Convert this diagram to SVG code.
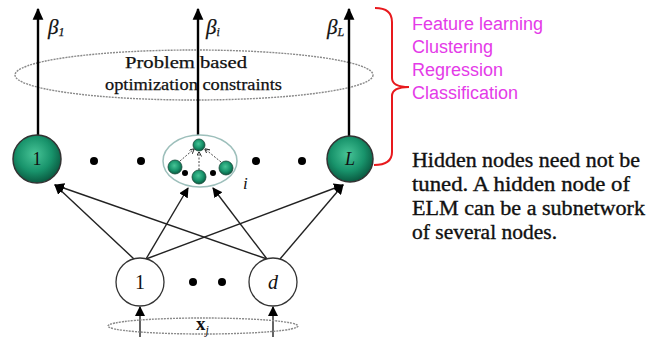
<svg xmlns="http://www.w3.org/2000/svg" width="662" height="337" viewBox="0 0 662 337">
<style>
.serif{font-family:"Liberation Serif","Times New Roman",serif;fill:#111}
.ln{stroke:#222;stroke-width:1.4;fill:none}
.up{stroke:#000;stroke-width:2.4;fill:none}
.dotted{fill:none;stroke:#8a8a8a;stroke-width:1.4;stroke-dasharray:2 1}
.big{fill:url(#g);stroke:#333;stroke-width:1.5}
.mini{fill:url(#g);stroke:#1a4a3a;stroke-width:0.8}
.dot{fill:#000}
.circ{fill:#fff;stroke:#333;stroke-width:1.3}
.mag{font-family:"Liberation Sans",Arial,sans-serif;font-size:18px;fill:#e43be8}
.note{font-family:"Liberation Serif","Times New Roman",serif;font-size:20px;fill:#111;stroke:#111;stroke-width:0.35}
.heavy{stroke:#111;stroke-width:0.25}
</style>
<defs>
<radialGradient id="g" cx="45%" cy="40%" r="60%">
<stop offset="0" stop-color="#48c497"/>
<stop offset="0.6" stop-color="#18936b"/>
<stop offset="1" stop-color="#0a5a41"/>
</radialGradient>
<marker id="ah" viewBox="0 0 10 10" refX="9" refY="5" markerWidth="10" markerHeight="10" markerUnits="userSpaceOnUse" orient="auto">
<path d="M0,0 L10,5 L0,10 z" fill="#000"/>
</marker>
<marker id="ah2" viewBox="0 0 10 10" refX="9" refY="5" markerWidth="12" markerHeight="12" markerUnits="userSpaceOnUse" orient="auto">
<path d="M0,0.5 L10,5 L0,9.5 z" fill="#000"/>
</marker>
<marker id="sa" viewBox="0 0 10 10" refX="9" refY="5" markerWidth="5" markerHeight="5" markerUnits="userSpaceOnUse" orient="auto">
<path d="M0,0 L10,5 L0,10" fill="none" stroke="#333" stroke-width="2"/>
</marker>
</defs>

<g id="constraints">
<ellipse class="dotted" cx="194" cy="75" rx="179" ry="25"/>
<text class="serif heavy" x="125" y="68" font-size="17" textLength="122" lengthAdjust="spacingAndGlyphs">Problem  based</text>
<text class="serif heavy" x="105" y="90" font-size="17" textLength="177" lengthAdjust="spacingAndGlyphs">optimization  constraints</text>
</g>

<g id="connectors">
<line class="up" x1="38" y1="136" x2="38" y2="9" marker-end="url(#ah2)"/>
<line class="up" x1="198" y1="135" x2="198" y2="9" marker-end="url(#ah2)"/>
<line class="up" x1="349" y1="137" x2="349" y2="9" marker-end="url(#ah2)"/>
<line class="ln" x1="134" y1="259" x2="55" y2="185" marker-end="url(#ah)"/>
<line class="ln" x1="146" y1="259" x2="188" y2="188" marker-end="url(#ah)"/>
<line class="ln" x1="146" y1="259" x2="343" y2="185" marker-end="url(#ah)"/>
<line class="ln" x1="267" y1="259" x2="55" y2="185" marker-end="url(#ah)"/>
<line class="ln" x1="267" y1="259" x2="213" y2="188" marker-end="url(#ah)"/>
<line class="ln" x1="280" y1="259" x2="343" y2="185" marker-end="url(#ah)"/>
<line class="ln" x1="140" y1="337" x2="140" y2="307" marker-end="url(#ah)"/>
<line class="ln" x1="273" y1="337" x2="273" y2="307" marker-end="url(#ah)"/>
</g>

<g id="betas">
<text class="serif heavy" x="48" y="34" font-size="21" font-style="italic">β<tspan font-size="12" dy="2">1</tspan></text>
<text class="serif heavy" x="206" y="34" font-size="21" font-style="italic">β<tspan font-size="12" dy="2">i</tspan></text>
<text class="serif heavy" x="327" y="34" font-size="21" font-style="italic">β<tspan font-size="12" dy="2">L</tspan></text>
</g>

<g id="hidden1">
<circle class="big" cx="37" cy="159" r="24"/>
<text class="serif" x="37" y="165" font-size="18" text-anchor="middle">1</text>
</g>
<g id="hiddenDots">
<circle class="dot" cx="94" cy="161" r="4"/>
<circle class="dot" cx="141" cy="161" r="4"/>
<circle class="dot" cx="256" cy="161" r="4"/>
<circle class="dot" cx="302" cy="161" r="4"/>
</g>
<g id="hiddenI">
<ellipse cx="200" cy="161" rx="37" ry="26" fill="#fff" stroke="#9dbfbb" stroke-width="1.5"/>
<line x1="180" y1="161" x2="194" y2="149" stroke="#333" stroke-width="0.9" stroke-dasharray="2 1.5" marker-end="url(#sa)"/>
<line x1="199" y1="170" x2="199" y2="152" stroke="#333" stroke-width="0.9" stroke-dasharray="2 1.5" marker-end="url(#sa)"/>
<line x1="221" y1="162" x2="205" y2="149" stroke="#333" stroke-width="0.9" stroke-dasharray="2 1.5" marker-end="url(#sa)"/>
<circle class="mini" cx="199" cy="145" r="6"/>
<circle class="mini" cx="175" cy="167" r="7"/>
<circle class="mini" cx="199" cy="177" r="7"/>
<circle class="mini" cx="226" cy="168" r="7"/>
<circle class="dot" cx="185" cy="173" r="3"/>
<circle class="dot" cx="213" cy="173" r="3"/>
<text class="serif" x="243" y="189" font-size="17" font-style="italic">i</text>
</g>
<g id="hiddenL">
<circle class="big" cx="350" cy="159" r="23"/>
<text class="serif" x="350" y="165" font-size="18" font-style="italic" text-anchor="middle">L</text>
</g>

<g id="bracket">
<path d="M375,8 Q392,8 392,22 L392,78 Q392,87 409,87 Q392,87 392,96 L392,152 Q392,165 374,165" fill="none" stroke="#e8191d" stroke-width="2"/>
<text class="mag" x="412" y="30">Feature learning</text>
<text class="mag" x="412" y="53">Clustering</text>
<text class="mag" x="412" y="76">Regression</text>
<text class="mag" x="412" y="99">Classification</text>
</g>

<g id="note">
<text class="note" x="412" y="167" textLength="228" lengthAdjust="spacingAndGlyphs">Hidden nodes need not be</text>
<text class="note" x="412" y="191" textLength="218" lengthAdjust="spacingAndGlyphs">tuned. A hidden node of</text>
<text class="note" x="412" y="215" textLength="233" lengthAdjust="spacingAndGlyphs">ELM can be a subnetwork</text>
<text class="note" x="412" y="239" textLength="145" lengthAdjust="spacingAndGlyphs">of several nodes.</text>
</g>

<g id="input1">
<circle class="circ" cx="140" cy="282" r="24"/>
<text class="serif" x="140" y="289" font-size="20" text-anchor="middle">1</text>
</g>
<g id="inputDots">
<circle class="dot" cx="193" cy="282" r="4"/>
<circle class="dot" cx="222" cy="282" r="4"/>
</g>
<g id="inputD">
<circle class="circ" cx="273" cy="282" r="24"/>
<text class="serif" x="273" y="289" font-size="20" font-style="italic" text-anchor="middle">d</text>
</g>
<g id="inputVector">
<ellipse class="dotted" cx="203" cy="326" rx="95" ry="8"/>
<text class="serif" x="196" y="330" font-size="19" font-weight="bold">x<tspan font-size="12" font-weight="normal" font-style="italic" dy="4">j</tspan></text>
</g>
</svg>
